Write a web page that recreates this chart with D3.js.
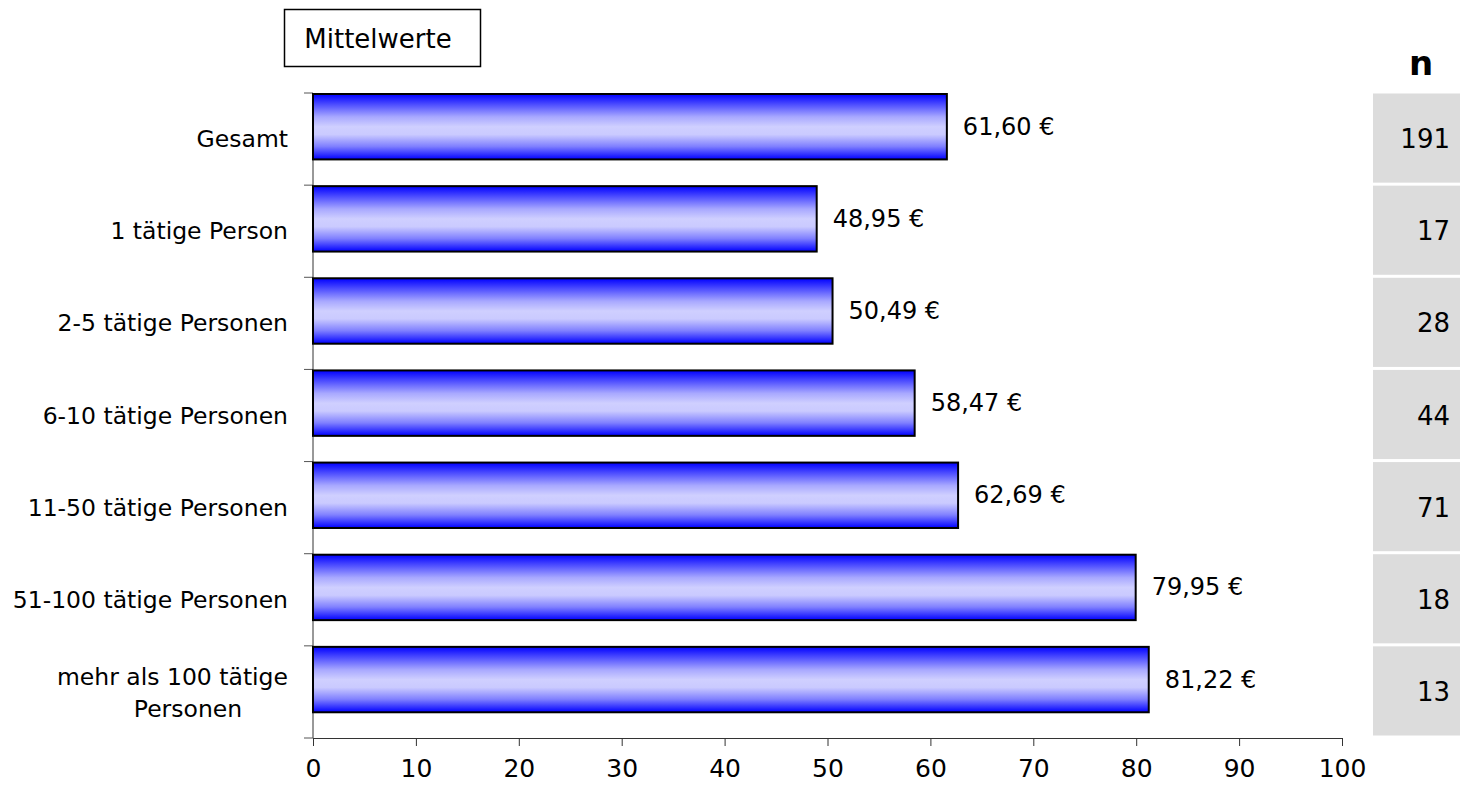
<!DOCTYPE html>
<html><head><meta charset="utf-8">
<script src="https://cdn.jsdelivr.net/npm/d3@7"></script>
<style>body{margin:0;background:#fff;}</style>
</head><body><svg id="c" width="1460" height="788"></svg>
<script>
const categories = ["Gesamt","1 tätige Person","2-5 tätige Personen","6-10 tätige Personen","11-50 tätige Personen","51-100 tätige Personen","mehr als 100 tätige Personen"];
const values = [61.60, 48.95, 50.49, 58.47, 62.69, 79.95, 81.22];
const nValues = [191, 17, 28, 44, 71, 18, 13];
const xTicks = [0,10,20,30,40,50,60,70,80,90,100];

const svg = d3.select("#c");
const F = "'DejaVu Sans', sans-serif";
const x = d3.scaleLinear().domain([0,100]).range([313,1342]);
const y = d3.scaleBand().domain(categories).range([93,738]).paddingInner(0).paddingOuter(0);

const defs = svg.append("defs");
const g = defs.append("linearGradient").attr("id","bg").attr("x1",0).attr("x2",0).attr("y1",0).attr("y2",1);
[[0,"#0000ff"],[0.12,"#3a3aff"],[0.35,"#a8a8ff"],[0.5,"#cfcfff"],[0.62,"#cacaff"],[0.8,"#8080ff"],[1,"#0000ff"]]
  .forEach(s=>g.append("stop").attr("offset",s[0]).attr("stop-color",s[1]));

// title box
svg.append("rect").attr("x",284.5).attr("y",9.5).attr("width",196).attr("height",57).attr("fill","#fff").attr("stroke","#000").attr("stroke-width",1.5);
svg.append("text").attr("x",378).attr("y",39).attr("text-anchor","middle").attr("dominant-baseline","central")
  .attr("font-family",F).attr("font-size",26).text("Mittelwerte");

// axes
const xAxis = svg.append("g").attr("transform","translate(0,738)")
  .call(d3.axisBottom(x).tickValues(xTicks).tickSize(8).tickPadding(13).tickFormat(d3.format("d")));
xAxis.select(".domain").attr("stroke","#333");
xAxis.selectAll("line").attr("stroke","#333");
xAxis.selectAll("text").attr("font-family",F).attr("font-size",25).attr("fill","#000");

const yTickVals = categories.map(c=>y(c)).concat([738]);
svg.append("line").attr("x1",313).attr("x2",313).attr("y1",93).attr("y2",738).attr("stroke","#333");
svg.selectAll(".yt").data(yTickVals).enter().append("line")
  .attr("x1",304).attr("x2",313).attr("y1",d=>d).attr("y2",d=>d).attr("stroke","#555");

// bars
const bh = y.bandwidth()*0.71;
svg.selectAll(".bar").data(values).enter().append("rect")
  .attr("x",x(0)).attr("y",(d,i)=>y(categories[i])+1)
  .attr("width",d=>x(d)-x(0)).attr("height",bh)
  .attr("fill","url(#bg)").attr("stroke","#000").attr("stroke-width",2);

// value labels
svg.selectAll(".vl").data(values).enter().append("text")
  .attr("x",d=>x(d)+16).attr("y",(d,i)=>y(categories[i])+1+bh/2)
  .attr("dominant-baseline","central").attr("font-family",F).attr("font-size",24)
  .text(d=>d3.format(".2f")(d).replace(".",",")+" €");

// category labels
categories.forEach((c,i)=>{
  const cy = y(c)+y.bandwidth()/2;
  const t = svg.append("text").attr("x",288).attr("text-anchor","end").attr("font-family",F).attr("font-size",23.5);
  if(c.startsWith("mehr")){
    t.append("tspan").attr("x",288).attr("y",cy-15).attr("dominant-baseline","central").text("mehr als 100 tätige");
    t.append("tspan").attr("x",188).attr("text-anchor","middle").attr("y",cy+17).attr("dominant-baseline","central").text("Personen");
  } else {
    t.attr("y",cy).attr("dominant-baseline","central").text(c);
  }
});

// n column
svg.append("text").attr("x",1421).attr("y",63).attr("text-anchor","middle").attr("dominant-baseline","central")
  .attr("font-family",F).attr("font-weight","bold").attr("font-size",34).text("n");
svg.selectAll(".nb").data(nValues).enter().append("rect")
  .attr("x",1373).attr("y",(d,i)=>y(categories[i])+0.5).attr("width",90).attr("height",y.bandwidth()-3)
  .attr("fill","#dcdcdc");
svg.selectAll(".nt").data(nValues).enter().append("text")
  .attr("x",1450).attr("y",(d,i)=>y(categories[i])+y.bandwidth()/2)
  .attr("text-anchor","end").attr("dominant-baseline","central")
  .attr("font-family",F).attr("font-size",26).text(d=>d);
</script></body></html>
